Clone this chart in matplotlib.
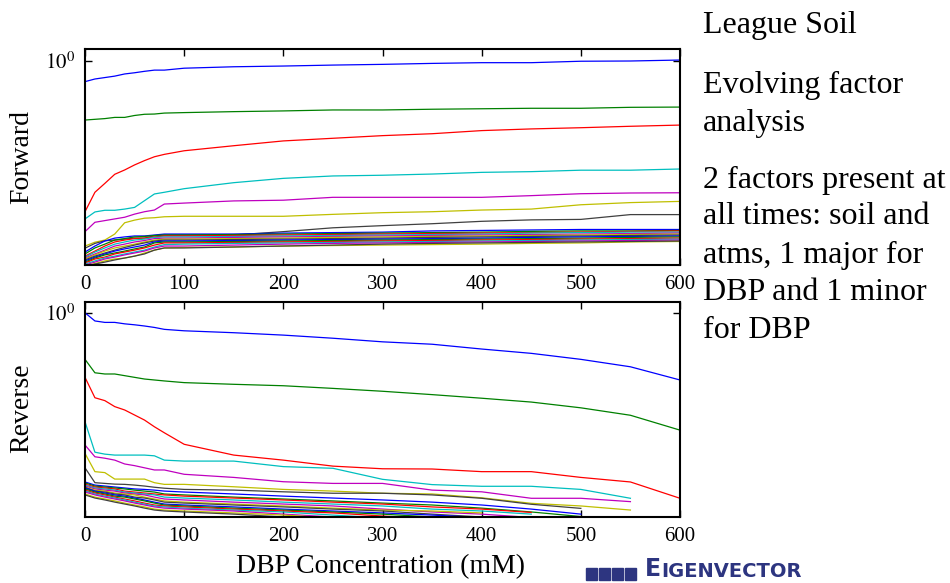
import matplotlib.pyplot as plt
import numpy as np
from matplotlib.patches import Rectangle

plt.rcParams['font.family'] = ['Liberation Serif', 'DejaVu Serif']
plt.rcParams['mathtext.fontset'] = 'stix'

# DBP concentration (mM) at which each window ends
conc = [0, 10, 20, 30, 40, 50, 60, 70, 80, 100, 150, 200, 250, 300, 350, 400, 450, 500, 550, 600]

# log10 of the eigenvalues, one list per factor (largest first)
fwd_log = [
    [-0.086, -0.075, -0.069, -0.063, -0.054, -0.049, -0.043, -0.038, -0.038, -0.030, -0.024, -0.021, -0.017, -0.014, -0.010, -0.007, -0.007, -0.001, 0.000, 0.004],
    [-0.246, -0.243, -0.240, -0.235, -0.235, -0.227, -0.222, -0.221, -0.217, -0.215, -0.211, -0.208, -0.204, -0.204, -0.201, -0.199, -0.197, -0.197, -0.193, -0.192],
    [-0.628, -0.547, -0.510, -0.472, -0.454, -0.433, -0.415, -0.399, -0.389, -0.374, -0.353, -0.333, -0.322, -0.311, -0.303, -0.290, -0.283, -0.278, -0.272, -0.267],
    [-0.658, -0.629, -0.622, -0.622, -0.617, -0.610, -0.582, -0.554, -0.547, -0.532, -0.507, -0.489, -0.479, -0.476, -0.471, -0.464, -0.461, -0.455, -0.455, -0.450],
    [-0.711, -0.672, -0.665, -0.658, -0.651, -0.638, -0.628, -0.621, -0.596, -0.592, -0.583, -0.580, -0.568, -0.568, -0.568, -0.568, -0.561, -0.553, -0.550, -0.549],
    [-0.771, -0.755, -0.746, -0.721, -0.674, -0.663, -0.655, -0.653, -0.649, -0.647, -0.647, -0.647, -0.639, -0.632, -0.628, -0.621, -0.617, -0.599, -0.590, -0.585],
    [-0.780, -0.760, -0.749, -0.746, -0.742, -0.738, -0.738, -0.728, -0.725, -0.725, -0.725, -0.711, -0.695, -0.686, -0.678, -0.668, -0.662, -0.660, -0.640, -0.640],
    [-0.796, -0.771, -0.750, -0.738, -0.733, -0.729, -0.729, -0.725, -0.721, -0.721, -0.721, -0.717, -0.715, -0.713, -0.708, -0.706, -0.704, -0.702, -0.702, -0.702],
    [-0.804, -0.779, -0.763, -0.746, -0.740, -0.733, -0.731, -0.727, -0.725, -0.725, -0.723, -0.721, -0.719, -0.717, -0.715, -0.713, -0.710, -0.708, -0.708, -0.706],
    [-0.813, -0.792, -0.771, -0.754, -0.746, -0.740, -0.738, -0.733, -0.729, -0.729, -0.727, -0.725, -0.723, -0.721, -0.719, -0.717, -0.715, -0.713, -0.710, -0.708],
    [-0.817, -0.796, -0.779, -0.763, -0.754, -0.746, -0.742, -0.735, -0.733, -0.733, -0.731, -0.729, -0.727, -0.725, -0.723, -0.721, -0.717, -0.715, -0.713, -0.713],
    [-0.821, -0.804, -0.788, -0.771, -0.763, -0.754, -0.748, -0.740, -0.738, -0.738, -0.735, -0.733, -0.731, -0.729, -0.727, -0.725, -0.723, -0.721, -0.719, -0.717],
    [-0.825, -0.808, -0.792, -0.779, -0.771, -0.763, -0.754, -0.746, -0.742, -0.742, -0.740, -0.738, -0.735, -0.733, -0.731, -0.729, -0.727, -0.725, -0.723, -0.721],
    [-0.829, -0.813, -0.800, -0.788, -0.777, -0.767, -0.758, -0.750, -0.746, -0.746, -0.744, -0.742, -0.740, -0.738, -0.735, -0.733, -0.731, -0.729, -0.727, -0.725],
    [-0.833, -0.817, -0.804, -0.792, -0.783, -0.775, -0.767, -0.754, -0.750, -0.750, -0.748, -0.746, -0.744, -0.742, -0.740, -0.738, -0.735, -0.733, -0.731, -0.729],
    [-0.838, -0.821, -0.808, -0.800, -0.792, -0.783, -0.775, -0.758, -0.754, -0.754, -0.752, -0.750, -0.748, -0.746, -0.744, -0.742, -0.740, -0.738, -0.735, -0.733],
    [-0.842, -0.825, -0.817, -0.804, -0.796, -0.788, -0.779, -0.767, -0.758, -0.758, -0.756, -0.754, -0.752, -0.750, -0.748, -0.746, -0.744, -0.742, -0.740, -0.738],
    [-0.846, -0.833, -0.821, -0.813, -0.804, -0.796, -0.788, -0.775, -0.765, -0.763, -0.760, -0.758, -0.756, -0.754, -0.752, -0.750, -0.748, -0.746, -0.744, -0.742],
    [-0.850, -0.838, -0.825, -0.817, -0.808, -0.800, -0.792, -0.779, -0.771, -0.771, -0.767, -0.763, -0.760, -0.758, -0.756, -0.754, -0.752, -0.750, -0.748, -0.746],
    [-0.854, -0.844, -0.833, -0.825, -0.821, -0.813, -0.800, -0.788, -0.779, -0.777, -0.775, -0.771, -0.769, -0.767, -0.765, -0.763, -0.760, -0.758, -0.754, -0.752],
    [-0.858, -0.846, -0.838, -0.829, -0.821, -0.813, -0.804, -0.788, -0.779, -0.779, -0.775, -0.771, -0.767, -0.763, -0.760, -0.758, -0.756, -0.754, -0.752, -0.750],
]

# reverse windows: the smaller factors run out before 600 mM
rev_log = [
    [0.001, -0.033, -0.039, -0.039, -0.045, -0.049, -0.054, -0.060, -0.068, -0.074, -0.082, -0.092, -0.105, -0.120, -0.130, -0.150, -0.168, -0.193, -0.224, -0.279],
    [-0.193, -0.249, -0.254, -0.254, -0.261, -0.268, -0.275, -0.279, -0.283, -0.290, -0.297, -0.303, -0.314, -0.326, -0.340, -0.355, -0.371, -0.395, -0.426, -0.488],
    [-0.268, -0.353, -0.365, -0.390, -0.404, -0.425, -0.446, -0.474, -0.499, -0.547, -0.592, -0.613, -0.638, -0.649, -0.650, -0.661, -0.661, -0.685, -0.704, -0.772],
    [-0.453, -0.580, -0.588, -0.592, -0.592, -0.592, -0.592, -0.595, -0.613, -0.617, -0.617, -0.640, -0.647, -0.693, -0.715, -0.722, -0.722, -0.735, -0.772],
    [-0.550, -0.599, -0.605, -0.613, -0.629, -0.636, -0.645, -0.654, -0.654, -0.672, -0.685, -0.703, -0.710, -0.710, -0.738, -0.745, -0.772, -0.772, -0.786],
    [-0.585, -0.661, -0.665, -0.692, -0.692, -0.692, -0.692, -0.707, -0.714, -0.714, -0.724, -0.735, -0.742, -0.751, -0.754, -0.770, -0.793, -0.804, -0.821],
    [-0.645, -0.707, -0.710, -0.713, -0.714, -0.717, -0.721, -0.726, -0.730, -0.735, -0.738, -0.745, -0.751, -0.751, -0.758, -0.772, -0.797, -0.814],
    [-0.704, -0.717, -0.721, -0.725, -0.729, -0.733, -0.735, -0.738, -0.742, -0.746, -0.754, -0.763, -0.771, -0.779, -0.788, -0.800, -0.817, -0.838],
    [-0.708, -0.721, -0.725, -0.729, -0.733, -0.738, -0.742, -0.746, -0.754, -0.758, -0.767, -0.775, -0.783, -0.792, -0.800, -0.813, -0.829, -0.848],
    [-0.713, -0.725, -0.729, -0.733, -0.742, -0.746, -0.750, -0.754, -0.758, -0.763, -0.771, -0.779, -0.788, -0.796, -0.808, -0.817, -0.831],
    [-0.717, -0.729, -0.733, -0.738, -0.746, -0.750, -0.754, -0.758, -0.767, -0.771, -0.779, -0.788, -0.796, -0.804, -0.817, -0.825, -0.838],
    [-0.721, -0.733, -0.738, -0.742, -0.750, -0.754, -0.758, -0.767, -0.775, -0.779, -0.788, -0.796, -0.804, -0.817, -0.829, -0.838, -0.852],
    [-0.725, -0.738, -0.742, -0.750, -0.754, -0.758, -0.767, -0.775, -0.783, -0.788, -0.796, -0.804, -0.813, -0.821, -0.825, -0.833],
    [-0.727, -0.742, -0.746, -0.754, -0.758, -0.767, -0.771, -0.779, -0.788, -0.792, -0.800, -0.808, -0.817, -0.825, -0.838, -0.850],
    [-0.729, -0.742, -0.750, -0.758, -0.763, -0.771, -0.779, -0.788, -0.796, -0.800, -0.808, -0.817, -0.825, -0.833, -0.842, -0.852],
    [-0.733, -0.746, -0.754, -0.763, -0.767, -0.775, -0.783, -0.792, -0.800, -0.804, -0.813, -0.821, -0.829, -0.838, -0.850],
    [-0.738, -0.750, -0.758, -0.767, -0.775, -0.783, -0.792, -0.800, -0.804, -0.808, -0.817, -0.825, -0.833, -0.846, -0.858],
    [-0.742, -0.754, -0.763, -0.771, -0.779, -0.788, -0.796, -0.804, -0.808, -0.813, -0.821, -0.829, -0.842, -0.854, -0.867],
    [-0.746, -0.758, -0.767, -0.775, -0.783, -0.792, -0.800, -0.808, -0.813, -0.817, -0.825, -0.838, -0.850, -0.863],
    [-0.754, -0.767, -0.775, -0.783, -0.792, -0.800, -0.808, -0.817, -0.821, -0.825, -0.833, -0.842, -0.854, -0.867],
    [-0.758, -0.771, -0.779, -0.788, -0.796, -0.804, -0.813, -0.821, -0.825, -0.829, -0.838, -0.850, -0.863, -0.875],
]

notes = [
    ("League Soil", 25),
    ("Evolving factor", 85),
    ("analysis", 123),
    ("2 factors present at", 180),
    ("all times: soil and", 217),
    ("atms, 1 major for", 255),
    ("DBP and 1 minor", 293),
    ("for DBP", 331),
]

# old MATLAB colour order b g r c m y k
line_colors = ['#0000ff', '#008000', '#ff0000', '#00bfbf', '#bf00bf', '#bfbf00', '#404040']

W, H = 950, 583
fig = plt.figure(figsize=(W / 100, H / 100), dpi=100)
ax_f = fig.add_axes([85 / W, 1 - 265 / H, 595 / W, 216 / H])
ax_r = fig.add_axes([85 / W, 1 - 517 / H, 595 / W, 215 / H])


def style_axes(ax, ytop):
    ax.set_yscale('log')
    ax.set_xlim(0, 600)
    ax.set_ylim(10 ** -0.85, 10 ** ytop)
    ax.minorticks_off()
    ax.set_xticks(range(0, 601, 100))
    ax.set_yticks([1])
    ax.set_yticklabels([r'$10^{0}$'])
    ax.tick_params(direction='in', top=True, right=True, length=5, width=1,
                   labelsize=15, pad=7)
    for sp in ax.spines.values():
        sp.set_linewidth(1.5)


for i, vals in enumerate(fwd_log):
    ax_f.plot(conc[:len(vals)], 10 ** np.array(vals), color=line_colors[i % 7], lw=0.9)
for i, vals in enumerate(rev_log):
    ax_r.plot(conc[:len(vals)], 10 ** np.array(vals), color=line_colors[i % 7], lw=0.9)

style_axes(ax_f, 0.05)
style_axes(ax_r, 0.046)

fig.text(22 / W, 1 - 157 / H, "Forward", rotation=90, ha='center', va='center', fontsize=20)
fig.text(22 / W, 1 - 408 / H, "Reverse", rotation=90, ha='center', va='center', fontsize=20)
fig.text(380 / W, 1 - 567 / H, "DBP Concentration (mM)", ha='center', va='center', fontsize=20)

for txt, ypx in notes:
    fig.text(703 / W, 1 - ypx / H, txt, ha='left', va='center', fontsize=23)

# company logo in the bottom right corner
navy = '#2d3580'
for k in range(4):
    fig.patches.append(Rectangle(((586 + k * 13) / W, 3 / H), 11 / W, 12 / H,
                                 transform=fig.transFigure, color=navy))
fig.text(645 / W, 2 / H, "E", ha='left', va='bottom', fontsize=17, color=navy,
         family='DejaVu Sans', weight='bold')
fig.text(661 / W, 2 / H, "IGENVECTOR", ha='left', va='bottom', fontsize=14, color=navy,
         family='DejaVu Sans', weight='bold')

fig.savefig('out.png', dpi=100)
